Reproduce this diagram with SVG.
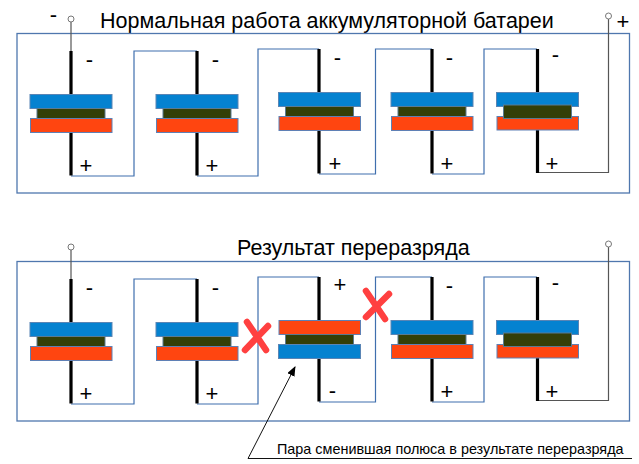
<svg xmlns="http://www.w3.org/2000/svg" width="639" height="464" viewBox="0 0 639 464">
<style>
text{font-family:"Liberation Sans",Arial,sans-serif;fill:#000}
.t{font-size:21.5px}
.s{font-size:22px;text-anchor:middle}
.c{font-size:14.4px}
.fr{fill:none;stroke:#4f77ae;stroke-width:1.3}
.w{fill:none;stroke:#3f6fae;stroke-width:1.2}
.g{fill:none;stroke:#555;stroke-width:1.2}
.o{fill:#fff;stroke:#777;stroke-width:1}
.r{stroke:#000;stroke-width:3.2}
.b{fill:#0582d0;stroke:#5a85b5;stroke-width:1}
.d{fill:#333f07;stroke:#5a7a90;stroke-width:1}
.e{fill:#ff4510;stroke:#5f80b5;stroke-width:1}
.x{stroke:#ff4040;stroke-width:6.500;stroke-linecap:round}
</style>
<defs>
<marker id="a" markerWidth="10" markerHeight="10" refX="9" refY="4" orient="auto" markerUnits="userSpaceOnUse"><path d="M0 0L10 4L0 8z" fill="#000"/></marker>
</defs>
<rect width="639" height="464" fill="#fff"/>
<text class="t" x="100" y="28">Нормальная работа аккумуляторной батареи</text>
<text class="s" x="53.500" y="21.500">-</text>
<text class="s" x="623" y="28.500">+</text>
<rect class="fr" x="17" y="33.500" width="612.500" height="159.500"/>
<text class="t" x="237" y="255">Результат переразряда</text>
<rect class="fr" x="17" y="261.500" width="612.500" height="159.500"/>
<g id="connectors">
<path class="g" d="M71 22V51"/>
<path class="w" d="M71 176H134V51H197"/>
<path class="w" d="M197 176H258V49H319"/>
<path class="w" d="M319 174H375.500V49H432"/>
<path class="w" d="M432 174H484V49H537"/>
<path class="g" d="M537 172.500H608.500V19"/>
<circle class="o" cx="71" cy="19" r="3"/>
<circle class="o" cx="608.500" cy="16" r="3"/>
<path class="g" d="M71 250V279"/>
<path class="w" d="M71 404H134V279H197"/>
<path class="w" d="M197 404H258V277H319"/>
<path class="w" d="M319 402H375.500V277H432"/>
<path class="w" d="M432 402H484V277H537"/>
<path class="g" d="M537 400.500H608.500V247"/>
<circle class="o" cx="71" cy="247" r="3"/>
<circle class="o" cx="608.500" cy="244" r="3"/>
<path d="M632 458.500H248L295 367" fill="none" stroke="#111" stroke-width="1" marker-end="url(#a)"/>
</g>
<g id="cell-1"><path class="r" d="M71 51V95M71 132V175.500"/><rect class="b" x="30" y="94.500" width="82" height="14"/><rect class="d" x="37" y="108.500" width="68" height="10"/><rect class="e" x="30.500" y="118.500" width="81.500" height="14"/><text class="s" x="89.500" y="66.500">-</text><text class="s" x="86" y="173">+</text></g>
<g id="cell-2"><path class="r" d="M197 51V95M197 132V175.500"/><rect class="b" x="156" y="94.500" width="82" height="14"/><rect class="d" x="163" y="108.500" width="68" height="10"/><rect class="e" x="156.500" y="118.500" width="81.500" height="14"/><text class="s" x="215.500" y="66.500">-</text><text class="s" x="212" y="173">+</text></g>
<g id="cell-3"><path class="r" d="M319 49V93M319 130V173.500"/><rect class="b" x="278.500" y="92.500" width="82" height="14"/><rect class="d" x="285.500" y="106.500" width="68" height="10"/><rect class="e" x="279" y="116.500" width="81.500" height="14"/><text class="s" x="337.500" y="64.500">-</text><text class="s" x="335" y="170.500">+</text></g>
<g id="cell-4"><path class="r" d="M432 49V93M432 130V173.500"/><rect class="b" x="391" y="92.500" width="82" height="14"/><rect class="d" x="398" y="106.500" width="68" height="10"/><rect class="e" x="391.500" y="116.500" width="81.500" height="14"/><text class="s" x="449.500" y="64.500">-</text><text class="s" x="447" y="170.500">+</text></g>
<g id="cell-5"><path class="r" d="M537.500 49V93M537.500 130V173"/><rect class="b" x="496.500" y="92.500" width="82" height="14"/><rect class="e" x="497" y="116.500" width="81.500" height="13.500"/><rect class="d" x="503.500" y="105" width="68" height="13.500"/><text class="s" x="555.500" y="62">-</text><text class="s" x="552" y="170.500">+</text></g>
<g id="cell-6"><path class="r" d="M71 279V323M71 360V403.500"/><rect class="b" x="30" y="322.500" width="82" height="14"/><rect class="d" x="37" y="336.500" width="68" height="10"/><rect class="e" x="30.500" y="346.500" width="81.500" height="14"/><text class="s" x="89.500" y="294.500">-</text><text class="s" x="86" y="400.500">+</text></g>
<g id="cell-7"><path class="r" d="M197 279V323M197 360V403.500"/><rect class="b" x="156" y="322.500" width="82" height="14"/><rect class="d" x="163" y="336.500" width="68" height="10"/><rect class="e" x="156.500" y="346.500" width="81.500" height="14"/><text class="s" x="215.500" y="294.500">-</text><text class="s" x="212" y="400.500">+</text></g>
<g id="cell-8"><path class="r" d="M319 277V321M319 358V401.500"/><rect class="e" x="279" y="320.500" width="81.500" height="14"/><rect class="d" x="285.500" y="334.500" width="68" height="10"/><rect class="b" x="278.500" y="344.500" width="82" height="14"/><text class="s" x="340" y="292">+</text><text class="s" x="332.500" y="398">-</text></g>
<g id="cell-9"><path class="r" d="M432 277V321M432 358V401.500"/><rect class="b" x="391" y="320.500" width="82" height="14"/><rect class="d" x="398" y="334.500" width="68" height="10"/><rect class="e" x="391.500" y="344.500" width="81.500" height="14"/><text class="s" x="449.500" y="293">-</text><text class="s" x="447" y="398.500">+</text></g>
<g id="cell-10"><path class="r" d="M537.500 277V321M537.500 358V401"/><rect class="b" x="496.500" y="320.500" width="82" height="14"/><rect class="e" x="497" y="344.500" width="81.500" height="13.500"/><rect class="d" x="503.500" y="333" width="68" height="13.500"/><text class="s" x="555.500" y="289.500">-</text><text class="s" x="552" y="398.500">+</text></g>
<g id="cross-1"><path class="x" d="M247 322L266 350M268 326L245 350"/></g>
<g id="cross-2"><path class="x" d="M366 291L385 319M389 294L366 317"/></g>
<text class="c" x="277" y="454">Пара сменившая полюса в результате переразряда</text>
</svg>
